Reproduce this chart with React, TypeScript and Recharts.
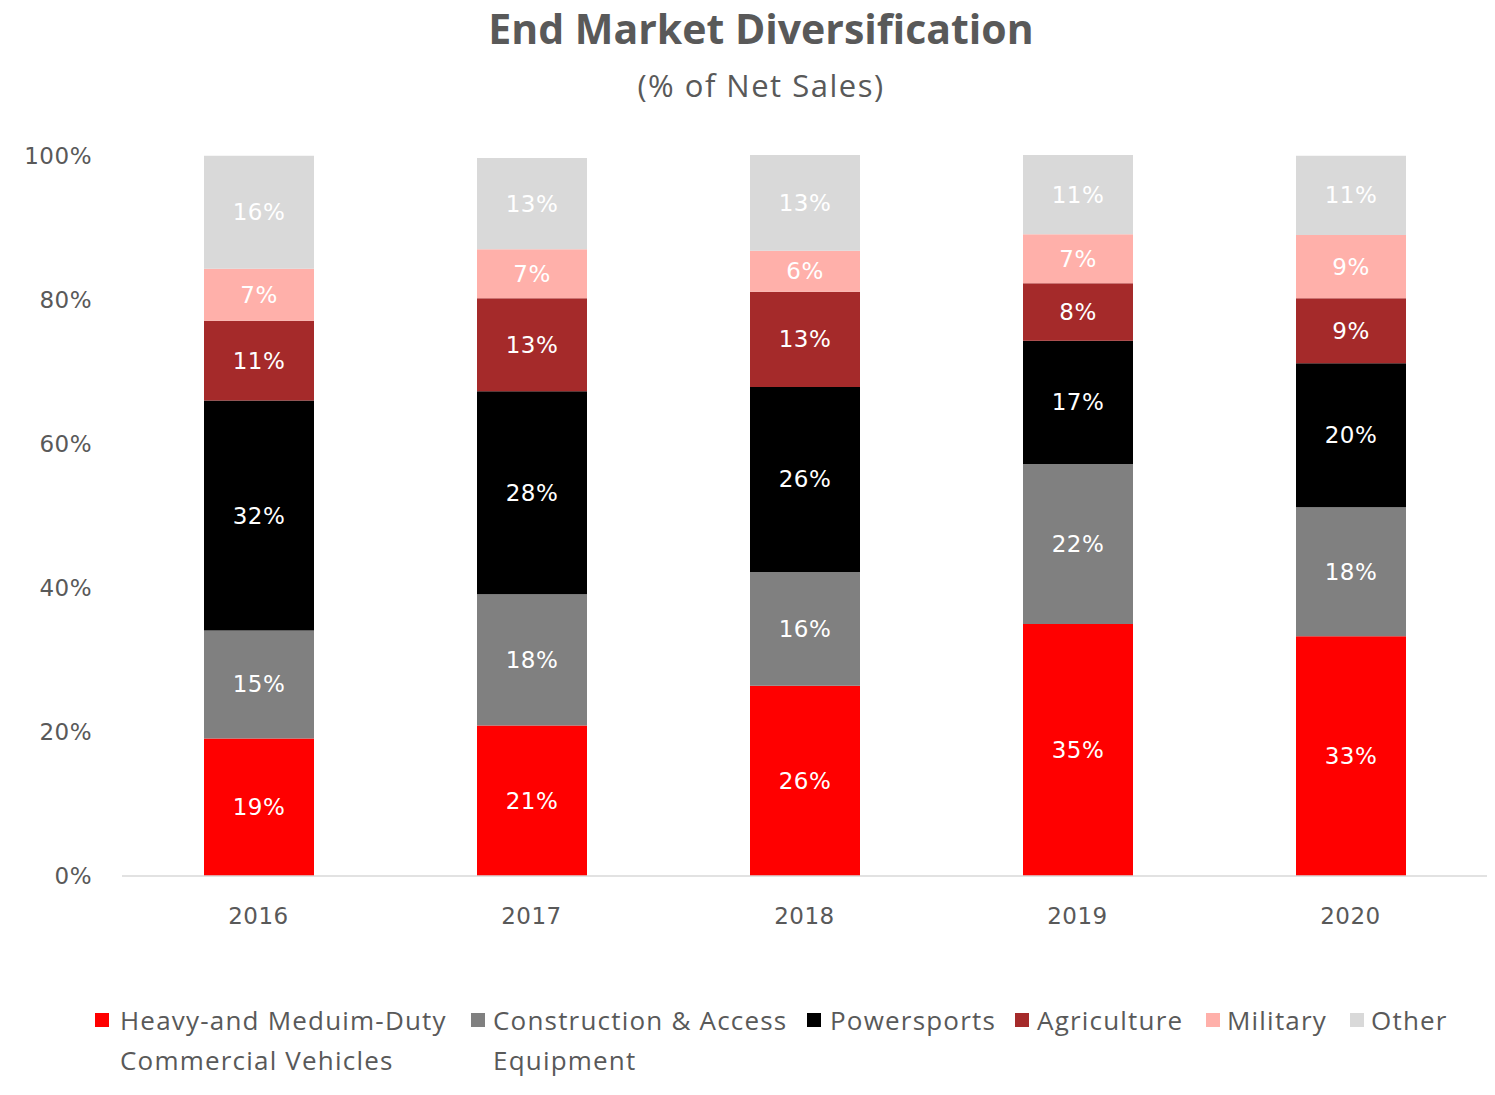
import React from 'react';
import { BarChart, Bar, XAxis, YAxis, LabelList } from 'recharts';

const years = ['2016', '2017', '2018', '2019', '2020'];

// shares of net sales, %
const heavyDuty = [19.1, 20.9, 26.4, 35.0, 33.3];
const construction = [15.0, 18.2, 15.8, 22.2, 17.9];
const powersports = [31.9, 28.2, 25.7, 17.1, 20.0];
const agriculture = [11.1, 12.9, 13.2, 8.0, 9.0];
const military = [7.2, 6.8, 5.7, 6.8, 8.8];
const other = [15.7, 12.7, 13.3, 11.0, 11.0];

const yTicks = [0, 20, 40, 60, 80, 100];

const SERIES = [
  { key: 'heavy', name: 'Heavy-and Meduim-Duty Commercial Vehicles', values: heavyDuty, color: '#FF0000' },
  { key: 'construction', name: 'Construction & Access Equipment', values: construction, color: '#808080' },
  { key: 'power', name: 'Powersports', values: powersports, color: '#000000' },
  { key: 'agri', name: 'Agriculture', values: agriculture, color: '#A52A2A' },
  { key: 'military', name: 'Military', values: military, color: '#FFB0AA' },
  { key: 'other', name: 'Other', values: other, color: '#D9D9D9' },
];

const data = years.map((year, i) => {
  const row: Record<string, string | number> = { year };
  SERIES.forEach(s => {
    row[s.key] = s.values[i];
  });
  return row;
});

// legend entries: square x, text x, text lines
const LEGEND = [
  { color: '#FF0000', sq: 95, tx: 120, lines: ['Heavy-and Meduim-Duty', 'Commercial Vehicles'] },
  { color: '#808080', sq: 471, tx: 493, lines: ['Construction & Access', 'Equipment'] },
  { color: '#000000', sq: 807, tx: 830, lines: ['Powersports'] },
  { color: '#A52A2A', sq: 1015, tx: 1037, lines: ['Agriculture'] },
  { color: '#FFB0AA', sq: 1206, tx: 1227, lines: ['Military'] },
  { color: '#D9D9D9', sq: 1350, tx: 1371, lines: ['Other'] },
];

const TICK_FONT = 'DejaVu Sans, Verdana, sans-serif';
const TEXT_FONT = '"Open Sans", "Noto Sans", sans-serif';

const renderLabel = (props: any) => {
  const { x, y, width, height, value } = props;
  if (value == null) return null;
  return (
    <text
      x={Number(x) + Number(width) / 2}
      y={Number(y) + Number(height) / 2}
      textAnchor="middle"
      dominantBaseline="central"
      fill="#FFFFFF"
      fontFamily={TICK_FONT}
      fontSize={23}
      letterSpacing={0.5}
    >
      {Math.round(Number(value))}%
    </text>
  );
};

const App: React.FC = () => {
  return (
    <div style={{ position: 'relative', width: 1495, height: 1095, margin: -8, background: '#fff' }}>
      <div
        style={{
          position: 'absolute',
          top: 0,
          left: 0,
          width: 1522,
          textAlign: 'center',
          fontFamily: TEXT_FONT,
          fontWeight: 700,
          fontSize: 41,
          color: '#595959',
        }}
      >
        End Market Diversification
      </div>
      <div
        style={{
          position: 'absolute',
          top: 64,
          left: 0,
          width: 1522,
          textAlign: 'center',
          fontFamily: TEXT_FONT,
          fontSize: 31,
          letterSpacing: 1.5,
          color: '#595959',
        }}
      >
        (% of Net Sales)
      </div>

      <div style={{ position: 'absolute', top: 0, left: 0 }}>
        <BarChart
          width={1495}
          height={1095}
          data={data}
          margin={{ top: 155, right: 8, bottom: 159, left: 22 }}
        >
          <XAxis
            dataKey="year"
            height={60}
            axisLine={{ stroke: '#D9D9D9', strokeWidth: 1.5 }}
            tickLine={false}
            tickSize={0}
            tickMargin={32}
            tick={{ fill: '#595959', fontSize: 23, fontFamily: TICK_FONT, letterSpacing: 0.5 }}
          />
          <YAxis
            width={100}
            domain={[0, 100]}
            ticks={yTicks}
            axisLine={false}
            tickLine={false}
            tickSize={0}
            tickMargin={30}
            tickFormatter={(v: number) => `${v}%`}
            tick={{ fill: '#595959', fontSize: 23, fontFamily: TICK_FONT, letterSpacing: 0.5 }}
          />
          {SERIES.map(s => (
            <Bar
              key={s.key}
              dataKey={s.key}
              name={s.name}
              stackId="a"
              fill={s.color}
              barSize={110}
              isAnimationActive={false}
            >
              <LabelList dataKey={s.key} content={renderLabel} />
            </Bar>
          ))}
        </BarChart>
      </div>

      {LEGEND.map(item => (
        <React.Fragment key={item.tx}>
          <div
            style={{
              position: 'absolute',
              left: item.sq,
              top: 1013,
              width: 14,
              height: 14,
              background: item.color,
            }}
          />
          <div
            style={{
              position: 'absolute',
              left: item.tx,
              top: 1000,
              fontFamily: TEXT_FONT,
              fontSize: 26,
              letterSpacing: 1.2,
              lineHeight: '40px',
              color: '#595959',
              whiteSpace: 'nowrap',
            }}
          >
            {item.lines.map(l => (
              <div key={l}>{l}</div>
            ))}
          </div>
        </React.Fragment>
      ))}
    </div>
  );
};

export default App;
